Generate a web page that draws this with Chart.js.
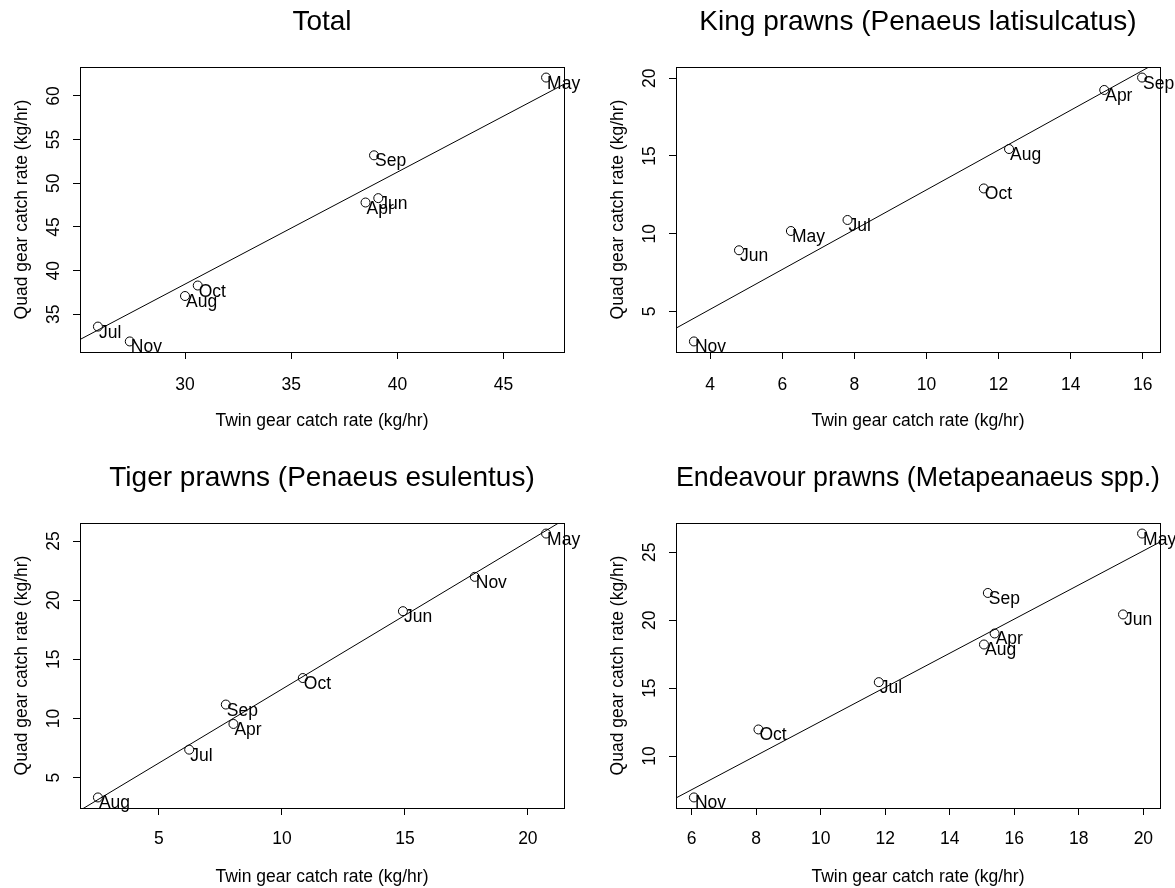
<!DOCTYPE html>
<html>
<head>
<meta charset="utf-8">
<title>Twin vs quad gear catch rates</title>
<script src="https://cdn.jsdelivr.net/npm/chart.js@4"></script>
<style>
  body { margin: 0; background: #fff; }
  #wrap { position: relative; width: 1175px; height: 888px; background: #fff; }
  #wrap canvas { position: absolute; }
</style>
</head>
<body>
<div id="wrap"></div>
<script>
// months are the same for every panel
const months = ["Apr", "May", "Jun", "Jul", "Aug", "Sep", "Oct", "Nov"];

const totalTwin = [38.5, 47.0, 39.1, 25.9, 30.0, 38.9, 30.6, 27.4];
const totalQuad = [47.8, 62.1, 48.3, 33.6, 37.1, 53.2, 38.3, 31.9];
const totalXTicks = [30, 35, 40, 45];
const totalYTicks = [35, 40, 45, 50, 55, 60];

const kingTwin = [14.93, 6.24, 4.80, 7.81, 12.29, 15.98, 11.59, 3.55];
const kingQuad = [19.25, 10.17, 8.93, 10.88, 15.45, 20.05, 12.91, 3.06];
const kingXTicks = [4, 6, 8, 10, 12, 14, 16];
const kingYTicks = [5, 10, 15, 20];

const tigerTwin = [8.03, 20.74, 14.92, 6.23, 2.52, 7.72, 10.85, 17.84];
const tigerQuad = [9.54, 25.63, 19.07, 7.37, 3.33, 11.18, 13.42, 21.97];
const tigerXTicks = [5, 10, 15, 20];
const tigerYTicks = [5, 10, 15, 20, 25];

const endeavourTwin = [15.39, 19.96, 19.37, 11.80, 15.06, 15.18, 8.07, 6.07];
const endeavourQuad = [19.02, 26.37, 20.42, 15.44, 18.21, 22.00, 11.96, 6.96];
const endeavourXTicks = [6, 8, 10, 12, 14, 16, 18, 20];
const endeavourYTicks = [10, 15, 20, 25];

// fitted line through the origin, slope
const lineSlopes = [1.282, 1.282, 1.248, 1.255];

const FONT = '"Liberation Sans", Arial, sans-serif';
const TXT = 17.5;

const panels = [
  { title: "Total", twin: totalTwin, quad: totalQuad, xTicks: totalXTicks, yTicks: totalYTicks,
    left: 0, top: 0, width: 587, box: { l: 80, r: 564, t: 67, b: 352 } },
  { title: "King prawns (Penaeus latisulcatus)", twin: kingTwin, quad: kingQuad, xTicks: kingXTicks, yTicks: kingYTicks,
    left: 587, top: 0, width: 588, box: { l: 89, r: 573, t: 67, b: 352 } },
  { title: "Tiger prawns (Penaeus esulentus)", twin: tigerTwin, quad: tigerQuad, xTicks: tigerXTicks, yTicks: tigerYTicks,
    left: 0, top: 444, width: 587, box: { l: 80, r: 564, t: 79, b: 364 } },
  { title: "Endeavour prawns (Metapeanaeus spp.)", twin: endeavourTwin, quad: endeavourQuad, xTicks: endeavourXTicks, yTicks: endeavourYTicks,
    left: 587, top: 444, width: 588, box: { l: 89, r: 573, t: 79, b: 364 } }
];

// R style axis limits: data range plus 4% each side
function limits(values) {
  const lo = Math.min(...values), hi = Math.max(...values);
  const pad = (hi - lo) * 0.04;
  return [lo - pad, hi + pad];
}

const pointLabels = {
  id: "pointLabels",
  afterDatasetsDraw(chart) {
    const ctx = chart.ctx;
    const meta = chart.getDatasetMeta(0);
    ctx.save();
    ctx.font = TXT + "px " + FONT;
    ctx.fillStyle = "#000";
    ctx.textAlign = "left";
    ctx.textBaseline = "alphabetic";
    meta.data.forEach((pt, i) => ctx.fillText(months[i], pt.x + 1, pt.y + 11));
    ctx.restore();
  }
};

const boxFrame = {
  id: "boxFrame",
  afterDraw(chart) {
    const { left, top, right, bottom } = chart.chartArea;
    const ctx = chart.ctx;
    ctx.save();
    ctx.strokeStyle = "#000";
    ctx.lineWidth = 1;
    ctx.strokeRect(Math.round(left) + 0.5, Math.round(top) + 0.5, Math.round(right - left), Math.round(bottom - top));
    ctx.restore();
  }
};

function makePanel(p, idx) {
  const H = 444;
  const canvas = document.createElement("canvas");
  canvas.width = p.width;
  canvas.height = H;
  canvas.style.left = p.left + "px";
  canvas.style.top = p.top + "px";
  document.getElementById("wrap").appendChild(canvas);

  const [xMin, xMax] = limits(p.twin);
  const [yMin, yMax] = limits(p.quad);
  const slope = lineSlopes[idx];

  const lh = TXT * 1.2;
  const titleSize = 28;
  const titleLh = titleSize * 1.2;
  const titleTop = p.box.t - 45 - titleLh / 2;
  const xH = H - p.box.b;

  new Chart(canvas, {
    type: "scatter",
    data: {
      datasets: [{
        data: p.twin.map((x, i) => ({ x: x, y: p.quad[i] })),
        pointStyle: "circle",
        pointRadius: 4.5,
        pointHoverRadius: 4.5,
        borderColor: "#000",
        backgroundColor: "rgba(0,0,0,0)",
        borderWidth: 1
      }, {
        type: "line",
        data: [{ x: xMin, y: slope * xMin }, { x: xMax, y: slope * xMax }],
        borderColor: "#000",
        borderWidth: 1,
        pointRadius: 0,
        fill: false
      }]
    },
    options: {
      responsive: false,
      animation: false,
      devicePixelRatio: 1,
      layout: { padding: { left: 0, top: 0, bottom: 0, right: p.width - p.box.r } },
      plugins: {
        legend: { display: false },
        tooltip: { enabled: false },
        title: {
          display: true,
          text: p.title,
          fullSize: false,
          color: "#000",
          font: { family: FONT, size: titleSize, weight: "normal" },
          padding: { top: titleTop, bottom: p.box.t - titleTop - titleLh }
        }
      },
      scales: {
        x: {
          type: "linear",
          min: xMin,
          max: xMax,
          afterBuildTicks: s => { s.ticks = p.xTicks.map(v => ({ value: v })); },
          afterFit: s => { s.height = xH; },
          grid: { drawOnChartArea: false, drawTicks: true, tickLength: 7, color: "#000", tickColor: "#000", lineWidth: 1 },
          border: { display: true, color: "#000", width: 1 },
          ticks: { color: "#000", font: { family: FONT, size: TXT }, padding: 33 - 7 - lh / 2 - (p.top ? 2.3 : 0),
                   autoSkip: false, maxRotation: 0, callback: v => String(v) },
          title: { display: true, text: "Twin gear catch rate (kg/hr)", color: "#000",
                   font: { family: FONT, size: TXT }, padding: { top: 0, bottom: Math.max(0, xH - 69.5 - lh / 2) } }
        },
        y: {
          type: "linear",
          min: yMin,
          max: yMax,
          afterBuildTicks: s => { s.ticks = p.yTicks.map(v => ({ value: v })); },
          afterFit: s => { s.width = p.box.l; },
          grid: { drawOnChartArea: false, drawTicks: true, tickLength: 7, color: "#000", tickColor: "#000", lineWidth: 1 },
          border: { display: true, color: "#000", width: 1 },
          ticks: { color: "#000", font: { family: FONT, size: TXT }, padding: 9, crossAlign: "center",
                   autoSkip: false, minRotation: 90, maxRotation: 90, callback: v => String(v) },
          title: { display: true, text: "Quad gear catch rate (kg/hr)", color: "#000",
                   font: { family: FONT, size: TXT }, padding: { top: p.box.l - 58 - lh / 2, bottom: 0 } }
        }
      }
    },
    plugins: [pointLabels, boxFrame]
  });
}

panels.forEach(makePanel);
</script>
</body>
</html>
